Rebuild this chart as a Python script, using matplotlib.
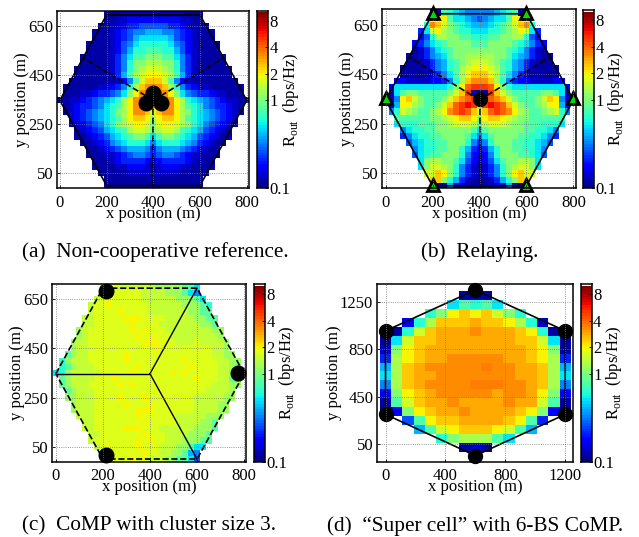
import matplotlib
matplotlib.use("Agg")
import matplotlib.pyplot as plt
from matplotlib.colors import LogNorm
import numpy as np

plt.rcParams["font.family"] = ["Liberation Serif", "DejaVu Serif"]
plt.rcParams["mathtext.fontset"] = "custom"
plt.rcParams["mathtext.rm"] = "Liberation Serif"

W, H = 639, 537

# rate level per cell, from the colorbar: char -> R_out (bps/Hz), '.' = outside the cell
LEVEL_CHARS = "0123456789abcdefghijk"
LEVEL_RATES = [0.12, 0.14, 0.17, 0.21, 0.26, 0.32, 0.40, 0.50, 0.63, 0.79, 1.0,
               1.26, 1.58, 2.0, 2.5, 3.2, 4.0, 5.0, 6.3, 7.9, 10.0]
# panel (c) sits in a narrow band, so its levels are closer together
LEVEL_RATES_C = [0.12, 0.14, 0.17, 0.21, 0.26, 0.32, 0.40, 0.50, 0.63, 0.85, 1.2,
                 1.5, 1.7, 1.95, 2.5, 3.2, 4.0, 5.0, 6.3, 7.9, 10.0]
# same for the orange plateau of panel (d)
LEVEL_RATES_D = [0.12, 0.14, 0.17, 0.21, 0.26, 0.32, 0.40, 0.50, 0.63, 0.79, 1.0,
                 1.26, 1.58, 2.0, 2.4, 2.88, 3.31, 3.63, 6.3, 7.9, 10.0]

# rows run from the top of the plot to the bottom
GRID_X_ABC = np.arange(0, 825, 25)
GRID_Y_ABC = np.arange(700, -25, -25)
GRID_X_D = np.arange(0, 1275, 75)
GRID_Y_D = np.arange(1300, -50, -75)

ROWS_A = [
    "........00011111111111000........",
    "........00112222222221100........",
    ".......0011233444443321100.......",
    "......000123455666554321000......",
    "......000123467777764321000......",
    ".....00001245788888754210000.....",
    ".....00001246889998864210000.....",
    "....00000135799aaa99753100000....",
    "....000001358aabbbaa853100000....",
    "...0000001358abcccba8531000000...",
    "...0000001369bcdddcb9631000000...",
    "..000000001259ceeec952100000000..",
    ".000000112358befffeb853211000000.",
    ".00011233457adfgggfda75433211000.",
    "00112345678bdfgfffgfdb87654321100",
    ".0123345789bdfggeggfdb9875433210.",
    ".012345678abdffeceffdba876543210.",
    "..123456789bdeedbdeedb987654321..",
    "..01234578abcddcacddcba87543210..",
    "...012346789bccbabccb987643210...",
    "...0012346789aa979aa9876432100...",
    "....0012356788875788876532100....",
    ".....00123456665356665432100.....",
    ".....00011234554345543211000.....",
    "......000123333212333321000......",
    "......000011222101222110000......",
    ".......0000011110111100000.......",
    "........00000000000000000........",
    "........00000000000000000........",
]

ROWS_B = [
    "........00987655555678900........",
    "........ddd97765456779ddd........",
    ".......8feca987666789acef8.......",
    "......37cdba988777889abdc73......",
    "......248bbaa9988899aabb842......",
    ".....235789aaaa999aaaa987532.....",
    ".....0135789aaaaaaaaa9875310.....",
    "....00135679aabbbbbaa97653100....",
    "....000135689abcccba986531000....",
    "...0000135689bcdddcb9865310000...",
    "...0000013579bdeeedb9753100000...",
    "..22111122358befffeb85322111122..",
    ".27777777778adghhhgda87777777772.",
    ".079aa99999aceh000heca99999aa970.",
    "115deca999acefghhhgfeca999aced511",
    ".26ddba99aceghihehihgeca99abdd62.",
    ".58cba99abdfghgeceghgfdba99abc85.",
    "..999999aabcdeedadeedcbaa999999..",
    "..7888999aabcccb9bcccbaa9998887..",
    "...578899aaaaaa979aaaaaa998875...",
    "...3578899aaaa97579aaaa9988753...",
    "....4678899aaa85358aaa9988764....",
    ".....578899aa8632368aa998875.....",
    ".....47899aaa8521258aaa99874.....",
    "......7abbaa974202479aabba7......",
    "......7accba853101358abcca7......",
    ".......cceda853101358adecc.......",
    "........eea86310001368aee........",
    "........00061100000116000........",
]

ROWS_C = [
    "........cccbbbbbbaaaaa997........",
    "........cccccccbbbbaaa975........",
    ".......bcccccccbbbbbbaaa97.......",
    "......bccdccccccbbbbbbaaa98......",
    "......bccccdccccbbbbbbbaa99......",
    ".....bbcccccdddccccbbbbbaa99.....",
    ".....bbccccccdccccbbbbbbbaa9.....",
    "....abcccccccdcdcccbbbbbbbbaa....",
    "....abccccccccdcdcccbbbbbbbba....",
    "...abbcccccccccdddcccbbbcbbbba...",
    "...abbcccccccccccdcccccccccbba...",
    "..9abbccccccdccccccccccccccbbaa..",
    ".8abbbccccccdcccccccccdcccccbbaa.",
    ".89abbbcccccccdccccccccdccccbba9.",
    "78abbbbbcccccdccccccdcdcccccbba97",
    ".9abbbbcccdcccccccccccccdcccbb97.",
    ".9abbbcccccdcdcccccccccccccbbbaa.",
    "..9abbbcccccccccccccccccccbbbba..",
    "..aabbbccccdcccdccccccccbbbbbaa..",
    "...abbbcccccdcccdcccccccbbbbaa...",
    "...abbbcccccccdddcccccccbbbbaa...",
    "....bbbcccccccdccccccbbbbbaaa....",
    ".....bbccccccccdcccccbbbbaa9.....",
    ".....bbcccccdddcccbbbbbbaaa9.....",
    "......bbcccccccdcccbbbbaaa9......",
    "......bcccccccdcdccbbbaaa99......",
    ".......bccccccdcccbbbaa977.......",
    "........cccccccdccbbaa965........",
    "........cccccdccbbbaa9974........",
]

ROWS_D = [
    ".......000.......",
    "......79897......",
    "....8adedeca8....",
    "..28beeefeedb81..",
    "008cefffgfffed800",
    "07ceefffffffeec70",
    "1adefffffffffeda0",
    "3bdeffgggggffedb3",
    "6befggggghggffeb6",
    "7beffgggggggffeb7",
    "5befgggghhhggfeb5",
    "2adefgggggfggfda2",
    "09ceffgffffgffc90",
    "02adeffgffffeda20",
    "..49deeffffed93..",
    "...69cdeeedc96...",
    ".....8abbb97.....",
    ".......010.......",
]

# network geometry (m)
HEX_X = [0, 200, 600, 800, 600, 200, 0]
HEX_Y = [347, 695, 695, 347, 0, 0, 347]
CENTER = (400, 347)
SECTOR_ENDS = [(100, 520), (700, 520), (400, 0)]
CLUSTER_ENDS = [(0, 347), (600, 695), (600, 0)]
BS_A = ([400, 369, 433], [378, 338, 338])
BS_B = ([400], [350])
RS_B = ([200, 600, 0, 800, 200, 600], [700, 700, 353, 353, 3, 3])
BS_C = ([213, 213, 776], [685, 16, 348])
HEX_X_D = [0, 600, 1200, 1200, 600, 0, 0]
HEX_Y_D = [1004, 1348, 1004, 302, -45, 302, 1004]
BS_D = ([0, 600, 1200, 1200, 600, 0], [1004, 1348, 1004, 302, -45, 302])

CB_TICKS = [0.1, 1, 2, 4, 8]
CB_LABELS = ["0.1", "1", "2", "4", "8"]
XLABEL = "x position (m)"
YLABEL = "y position (m)"
CB_TITLE = r"R$_{\mathrm{out}}$  (bps/Hz)"

cmap = plt.get_cmap("jet", 64).copy()
cmap.set_bad("white")
norm = LogNorm(vmin=0.1, vmax=10)


def decode(rows, ncols, rates):
    out = []
    for row in rows:
        row = row.ljust(ncols, ".")[:ncols]
        out.append([rates[LEVEL_CHARS.index(c)] if c != "." else np.nan for c in row])
    return np.ma.masked_invalid(np.array(out))


def box(x0, y0, x1, y1):
    # pixel box, y from the top of the image
    return [x0 / W, 1 - y1 / H, (x1 - x0) / W, (y1 - y0) / H]


def heat_panel(fig, rect, cb_rect, rows, xc, yc, xlim, ylim, xticks, yticks, cb_x, rates=LEVEL_RATES):
    ax = fig.add_axes(box(*rect))
    dx = abs(xc[1] - xc[0])
    dy = abs(yc[1] - yc[0])
    xe = np.r_[xc - dx / 2, xc[-1] + dx / 2]
    ye = np.r_[yc + dy / 2, yc[-1] - dy / 2]
    ax.pcolormesh(xe, ye, decode(rows, len(xc), rates), cmap=cmap, norm=norm)
    ax.set_xlim(*xlim)
    ax.set_ylim(*ylim)
    ax.set_xticks(xticks)
    ax.set_yticks(yticks)
    ax.tick_params(direction="in", length=2, width=0.6, labelsize=12, pad=4.5)
    ax.tick_params(axis="y", pad=3)
    ax.grid(True, ls=":", color="#777777", lw=0.6)
    ax.set_axisbelow(False)
    ax.set_xlabel(XLABEL, fontsize=12, labelpad=-3.5)
    ax.set_ylabel(YLABEL, fontsize=12, labelpad=-1.5)
    for s in ax.spines.values():
        s.set_linewidth(1.1)

    cax = fig.add_axes(box(*cb_rect))
    levels = np.logspace(-1, 1, 65)
    cax.pcolormesh([0, 1], levels, (levels[:-1] * 1.0).reshape(-1, 1), cmap=cmap, norm=norm)
    cax.set_yscale("log")
    cax.set_ylim(0.1, 10.4)
    cax.set_xticks([])
    cax.set_yticks(CB_TICKS)
    cax.set_yticklabels(CB_LABELS)
    cax.minorticks_off()
    cax.yaxis.tick_right()
    cax.tick_params(direction="in", length=2, width=0.6, labelsize=12, pad=1)
    for s in cax.spines.values():
        s.set_linewidth(1.1)
    fig.text(cb_x / W, 1 - (rect[1] + rect[3]) / 2 / H, CB_TITLE, rotation=90, fontsize=12,
             ha="center", va="center")
    return ax


def lines_from_center(ax, ends, **kw):
    for ex, ey in ends:
        ax.plot([CENTER[0], ex], [CENTER[1], ey], **kw)


fig = plt.figure(figsize=(W / 100, H / 100), dpi=100)

x_ticks = [0, 200, 400, 600, 800]
y_ticks = [50, 250, 450, 650]

# (a)
ax = heat_panel(fig, (57.3, 10.7, 249.3, 188.3), (256.7, 10.7, 268.3, 188.3), ROWS_A,
                GRID_X_ABC, GRID_Y_ABC, (-11, 811), (-11, 712), x_ticks, y_ticks, 291)
ax.plot(HEX_X, HEX_Y, color="k", lw=1.2)
lines_from_center(ax, SECTOR_ENDS, color="k", ls="--", lw=1.2)
ax.plot(*BS_A, "o", color="k", ms=10.5, clip_on=False)

# (b)
ax = heat_panel(fig, (382.3, 9.3, 576, 188.3), (583.3, 10, 594.3, 188.3), ROWS_B,
                GRID_X_ABC, GRID_Y_ABC, (-14, 811), (-10, 713), x_ticks, y_ticks, 616)
ax.plot(HEX_X, HEX_Y, color="k", lw=1.2)
lines_from_center(ax, SECTOR_ENDS, color="k", ls="--", lw=1.2)
ax.plot(*BS_B, "o", color="k", ms=10, clip_on=False)
ax.plot(*RS_B, "^", color="#00e000", mec="k", mew=2, ms=8, clip_on=False, ls="none")

# (c)
ax = heat_panel(fig, (52.3, 284, 246, 461.7), (254, 284, 265, 461.7), ROWS_C,
                GRID_X_ABC, GRID_Y_ABC, (-15, 808), (-11, 712), x_ticks, y_ticks, 287,
                rates=LEVEL_RATES_C)
ax.plot(HEX_X, HEX_Y, color="k", ls="--", lw=1.2)
lines_from_center(ax, CLUSTER_ENDS, color="k", lw=1.0)
ax.plot(*BS_C, "o", color="k", ms=10.5, clip_on=False)

# (d)
ax = heat_panel(fig, (377.3, 284, 573.3, 461.7), (580.7, 284, 591.7, 461.7), ROWS_D,
                GRID_X_D, GRID_Y_D, (-55, 1254), (-96, 1398), [0, 400, 800, 1200],
                [50, 450, 850, 1250], 614, rates=LEVEL_RATES_D)
ax.plot(HEX_X_D, HEX_Y_D, color="k", lw=1.2)
ax.plot(*BS_D, "o", color="k", ms=10, clip_on=False)

fig.text(155 / W, 1 - 252 / H, "(a)  Non-cooperative reference.", ha="center", va="center", fontsize=15.3)
fig.text(480 / W, 1 - 252 / H, "(b)  Relaying.", ha="center", va="center", fontsize=15.3)
fig.text(149 / W, 1 - 526 / H, "(c)  CoMP with cluster size 3.", ha="center", va="center", fontsize=15.3)
fig.text(475 / W, 1 - 526 / H, "(d)  \u201cSuper cell\u201d with 6-BS CoMP.", ha="center", va="center", fontsize=15.3)

fig.savefig("out.png", dpi=100)
plt.close(fig)
